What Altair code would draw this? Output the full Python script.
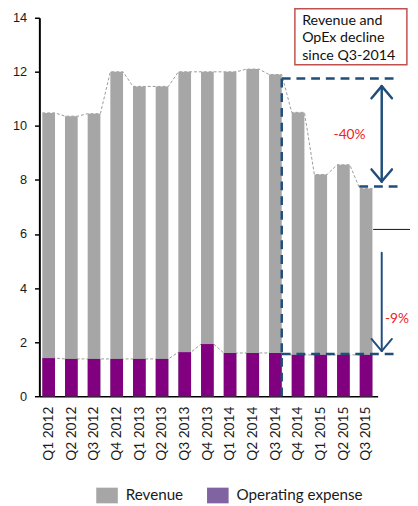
import altair as alt
import pandas as pd

# ---------------- data ----------------
quarters = ["Q1 2012", "Q2 2012", "Q3 2012", "Q4 2012", "Q1 2013", "Q2 2013",
            "Q3 2013", "Q4 2013", "Q1 2014", "Q2 2014", "Q3 2014", "Q4 2014",
            "Q1 2015", "Q2 2015", "Q3 2015"]
revenue = [10.48, 10.36, 10.45, 12.0, 11.46, 11.46, 12.0, 12.0, 12.0, 12.1,
           11.9, 10.5, 8.2, 8.56, 7.68]
opex = [1.41, 1.38, 1.38, 1.38, 1.38, 1.38, 1.63, 1.93, 1.6, 1.6, 1.6,
        1.53, 1.53, 1.53, 1.53]
series = ["Revenue", "Operating expense"]
box_lines = ["Revenue and", "OpEx decline", "since Q3-2014"]
pct_labels = ["-40%", "-9%"]

# ---------------- styling constants ----------------
HALF = 0.28
GRAY = "#a6a6a6"
PURPLE = "#800080"
LEG_PURPLE = "#8064a2"
BLUE = "#1f4e7a"
RED = "#ee2222"

df = pd.DataFrame({"idx": list(range(len(quarters))), "quarter": quarters,
                   "revenue": revenue, "opex": opex, "series": "Revenue"})

edge_rows = []
for i, (r, o) in enumerate(zip(revenue, opex)):
    for s in (-HALF, HALF):
        edge_rows.append({"xe": i + s, "revenue": r, "opex": o})
edges = pd.DataFrame(edge_rows)

xscale = alt.Scale(domain=[-0.41, 14.51], nice=False, zero=False)
yscale = alt.Scale(domain=[0, 14], nice=False)

label_expr = "[" + ",".join("'" + q + "'" for q in quarters) + "][datum.value]"

x_axis = alt.Axis(values=list(range(len(quarters))), labelExpr=label_expr,
                  labelAngle=-90, labelAlign="right", labelBaseline="middle",
                  ticks=False, tickSize=0, labelPadding=10, grid=False,
                  domainColor="black", domainWidth=1.5, labelFont="Lato",
                  labelFontSize=14, labelColor="#1a1a1a", title=None,
                  labelOverlap=False, labelFlush=False)
y_axis = alt.Axis(values=[0, 2, 4, 6, 8, 10, 12, 14], grid=False, tickSize=5,
                  tickColor="black", tickWidth=1.5, domainColor="black",
                  domainWidth=2, labelFont="Liberation Sans", labelFontSize=13,
                  labelPadding=8, labelColor="#1a1a1a", title=None,
                  labelFlush=False)

X = lambda f: alt.X(f, scale=xscale, axis=x_axis)
Y = lambda f: alt.Y(f, scale=yscale, axis=y_axis)

rev_line = alt.Chart(edges).mark_line(color="#9a9a9a", strokeWidth=1, strokeDash=[3, 2]).encode(
    x=X("xe:Q"), y=Y("revenue:Q"))
opex_line = alt.Chart(edges).mark_line(color="#9a9a9a", strokeWidth=1, strokeDash=[3, 2]).encode(
    x=X("xe:Q"), y=Y("opex:Q"))

legend = alt.Legend(orient="none", legendX=58, legendY=476, direction="horizontal",
                    title=None, symbolType="M-1,-0.727L1,-0.727L1,0.727L-1,0.727Z",
                    symbolSize=484, symbolStrokeWidth=0, labelFont="Lato",
                    labelFontSize=15.5, labelColor="#1a1a1a", labelOffset=8,
                    columnPadding=24, padding=0)

rev_bar = alt.Chart(df).transform_calculate(
    x0="datum.idx - %f" % HALF, x1="datum.idx + %f" % HALF, zero="0"
).mark_rect().encode(
    x=X("x0:Q"), x2="x1:Q", y=Y("revenue:Q"), y2="zero:Q",
    color=alt.Color("series:N", scale=alt.Scale(domain=series, range=[GRAY, LEG_PURPLE]),
                    legend=legend))

opex_bar = alt.Chart(df).transform_calculate(
    x0="datum.idx - %f" % HALF, x1="datum.idx + %f" % HALF, zero="0"
).mark_rect(color=PURPLE).encode(
    x=X("x0:Q"), x2="x1:Q", y=Y("opex:Q"), y2="zero:Q")

# ---------------- annotations ----------------
dash_df = pd.DataFrame({
    "x": [10.28, 10.28, 13.70, 10.28],
    "x2": [10.28, 15.37, 15.54, 15.33],
    "y": [11.75, 11.75, 7.76, 1.56],
    "y2": [0.0, 11.75, 7.76, 1.56],
})
dashes = alt.Chart(dash_df).mark_rule(color=BLUE, strokeWidth=2.5, strokeDash=[9, 6]).encode(
    x=X("x:Q"), x2="x2:Q", y=Y("y:Q"), y2="y2:Q")

AX = 14.69
AW = 0.45
AH = 0.45
arrow_df = pd.DataFrame({
    "x": [AX, AX - AW, AX + AW, AX - AW, AX + AW],
    "x2": [AX, AX, AX, AX, AX],
    "y": [11.47, 11.47 - AH, 11.47 - AH, 7.94 + AH, 7.94 + AH],
    "y2": [7.94, 11.47, 11.47, 7.94, 7.94],
})
arrow1 = alt.Chart(arrow_df).mark_rule(color=BLUE, strokeWidth=2.5, strokeCap="round").encode(
    x=X("x:Q"), x2="x2:Q", y=Y("y:Q"), y2="y2:Q")

arrow2_df = pd.DataFrame({
    "x": [AX, AX - AW, AX + AW],
    "x2": [AX, AX, AX],
    "y": [5.31, 1.67 + AH, 1.67 + AH],
    "y2": [1.67, 1.67, 1.67],
})
arrow2 = alt.Chart(arrow2_df).mark_rule(color=BLUE, strokeWidth=2, strokeCap="round").encode(
    x=X("x:Q"), x2="x2:Q", y=Y("y:Q"), y2="y2:Q")

black_df = pd.DataFrame({"x": [14.31], "x2": [15.95], "y": [6.17]})
black_rule = alt.Chart(black_df).mark_rule(color="#111111", strokeWidth=1).encode(
    x=X("x:Q"), x2="x2:Q", y=Y("y:Q"))

pct_df = pd.DataFrame({"x": [13.27, 15.36], "y": [9.66, 2.87], "t": pct_labels})
pct_text = alt.Chart(pct_df).mark_text(color=RED, font="Lato", fontSize=14,
                                       align="center", baseline="middle").encode(
    x=X("x:Q"), y=Y("y:Q"), text="t:N")

box_df = pd.DataFrame({"x": [10.86], "x2": [15.8], "y": [14.33], "y2": [12.26]})
box = alt.Chart(box_df).mark_rect(fill="white", stroke="#c0504d", strokeWidth=1.5).encode(
    x=X("x:Q"), x2="x2:Q", y=Y("y:Q"), y2="y2:Q")

box_text_df = pd.DataFrame({"x": [11.18] * 3, "y": [13.75, 13.10, 12.42], "t": box_lines})
box_text = alt.Chart(box_text_df).mark_text(color="#111111", font="Lato", fontSize=14.5,
                                            align="left", baseline="alphabetic").encode(
    x=X("x:Q"), y=Y("y:Q"), text="t:N")

chart = alt.layer(
    rev_line, opex_line, rev_bar, opex_bar, dashes, arrow1, arrow2,
    black_rule, pct_text, box, box_text
).properties(
    width=345, height=386,
    padding={"left": 32, "top": 5, "right": 33, "bottom": 107},
    autosize=alt.AutoSizeParams(type="none"),
    background="white",
).configure_view(stroke=None)

chart.save("out.html", embed_options={"renderer": "svg", "actions": False})
